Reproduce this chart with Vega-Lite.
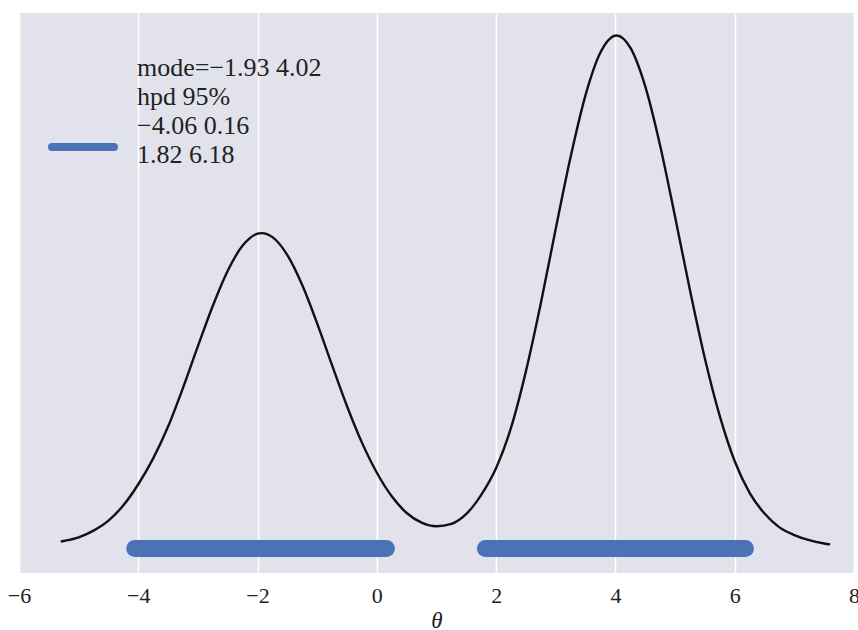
{
  "$schema": "https://vega.github.io/schema/vega-lite/v6.json",
  "width": 835,
  "height": 560,
  "autosize": {"type": "none"},
  "padding": {"left": 19, "top": 13, "right": 4, "bottom": 57},
  "background": "#ffffff",
  "config": {
    "view": {"fill": "#E2E2EC", "stroke": null},
    "font": "Liberation Serif"
  },
  "datasets": {
    "kde": [
      {"theta": -5.3, "density": 0.0036},
      {"theta": -5.25, "density": 0.0039},
      {"theta": -5.0, "density": 0.0058},
      {"theta": -4.75, "density": 0.0093},
      {"theta": -4.5, "density": 0.0145},
      {"theta": -4.25, "density": 0.0225},
      {"theta": -4.0, "density": 0.0335},
      {"theta": -3.75, "density": 0.047},
      {"theta": -3.5, "density": 0.0636},
      {"theta": -3.25, "density": 0.0838},
      {"theta": -3.0, "density": 0.1055},
      {"theta": -2.75, "density": 0.1266},
      {"theta": -2.5, "density": 0.1449},
      {"theta": -2.25, "density": 0.158},
      {"theta": -2.0, "density": 0.1642},
      {"theta": -1.93, "density": 0.1645},
      {"theta": -1.75, "density": 0.1624},
      {"theta": -1.5, "density": 0.153},
      {"theta": -1.25, "density": 0.1373},
      {"theta": -1.0, "density": 0.1173},
      {"theta": -0.75, "density": 0.0955},
      {"theta": -0.5, "density": 0.0742},
      {"theta": -0.25, "density": 0.0552},
      {"theta": 0.0, "density": 0.0395},
      {"theta": 0.25, "density": 0.0272},
      {"theta": 0.5, "density": 0.0185},
      {"theta": 0.75, "density": 0.0135},
      {"theta": 1.0, "density": 0.0116},
      {"theta": 1.25, "density": 0.0128},
      {"theta": 1.5, "density": 0.018},
      {"theta": 1.75, "density": 0.028},
      {"theta": 2.0, "density": 0.042},
      {"theta": 2.25, "density": 0.063},
      {"theta": 2.5, "density": 0.0925},
      {"theta": 2.75, "density": 0.128},
      {"theta": 3.0, "density": 0.1669},
      {"theta": 3.25, "density": 0.2044},
      {"theta": 3.5, "density": 0.2366},
      {"theta": 3.75, "density": 0.2588},
      {"theta": 4.02, "density": 0.2676},
      {"theta": 4.25, "density": 0.2612},
      {"theta": 4.5, "density": 0.241},
      {"theta": 4.75, "density": 0.2101},
      {"theta": 5.0, "density": 0.173},
      {"theta": 5.25, "density": 0.1347},
      {"theta": 5.5, "density": 0.0991},
      {"theta": 5.75, "density": 0.069},
      {"theta": 6.0, "density": 0.0455},
      {"theta": 6.25, "density": 0.029},
      {"theta": 6.5, "density": 0.0182},
      {"theta": 6.75, "density": 0.011},
      {"theta": 7.0, "density": 0.007},
      {"theta": 7.25, "density": 0.0043},
      {"theta": 7.5, "density": 0.0026},
      {"theta": 7.6, "density": 0.0021}
    ],
    "hpd": [
      {"lo": -4.06, "hi": 0.16, "level": 0, "label": "mode=−1.93 4.02|hpd 95%|−4.06 0.16|1.82 6.18"},
      {"lo": 1.82, "hi": 6.18, "level": 0, "label": "mode=−1.93 4.02|hpd 95%|−4.06 0.16|1.82 6.18"}
    ]
  },
  "layer": [
    {
      "data": {"name": "kde"},
      "mark": {"type": "line", "color": "#111111", "strokeWidth": 2.4, "interpolate": "monotone"},
      "encoding": {
        "x": {
          "field": "theta",
          "type": "quantitative",
          "scale": {"domain": [-6, 8], "nice": false, "zero": false},
          "axis": {
            "title": "θ",
            "values": [-6, -4, -2, 0, 2, 4, 6, 8],
            "format": "d",
            "grid": true,
            "gridColor": "#ffffff",
            "gridWidth": 1.6,
            "domain": false,
            "ticks": false,
            "tickSize": 0,
            "labelFont": "Liberation Serif",
            "labelFontSize": 22,
            "labelColor": "#222222",
            "labelPadding": 12,
            "labelFlush": false,
            "titleFont": "Liberation Serif",
            "titleFontSize": 23,
            "titleFontStyle": "italic",
            "titleFontWeight": "normal",
            "titleColor": "#222222",
            "titlePadding": 3
          }
        },
        "y": {
          "field": "density",
          "type": "quantitative",
          "scale": {"domain": [-0.0128, 0.2793], "nice": false, "zero": false},
          "axis": null
        }
      }
    },
    {
      "data": {"name": "hpd"},
      "mark": {"type": "rule", "strokeWidth": 17, "strokeCap": "round"},
      "encoding": {
        "x": {"field": "lo", "type": "quantitative"},
        "x2": {"field": "hi"},
        "y": {"field": "level", "type": "quantitative"},
        "color": {
          "field": "label",
          "type": "nominal",
          "scale": {"range": ["#4A72B5"]},
          "legend": {
            "title": null,
            "orient": "none",
            "legendX": 29,
            "legendY": 99,
            "padding": 0,
            "symbolType": "stroke",
            "symbolSize": 3844,
            "symbolStrokeWidth": 8,
            "labelOffset": 19,
            "labelFont": "Liberation Serif",
            "labelFontSize": 26,
            "labelColor": "#222222",
            "labelLimit": 0,
            "labelExpr": "split(datum.label, '|')",
            "encode": {
              "symbols": {"update": {"strokeCap": {"value": "round"}}},
              "labels": {"update": {"lineHeight": {"value": 29}, "dy": {"value": -79}}}
            }
          }
        }
      }
    }
  ]
}
